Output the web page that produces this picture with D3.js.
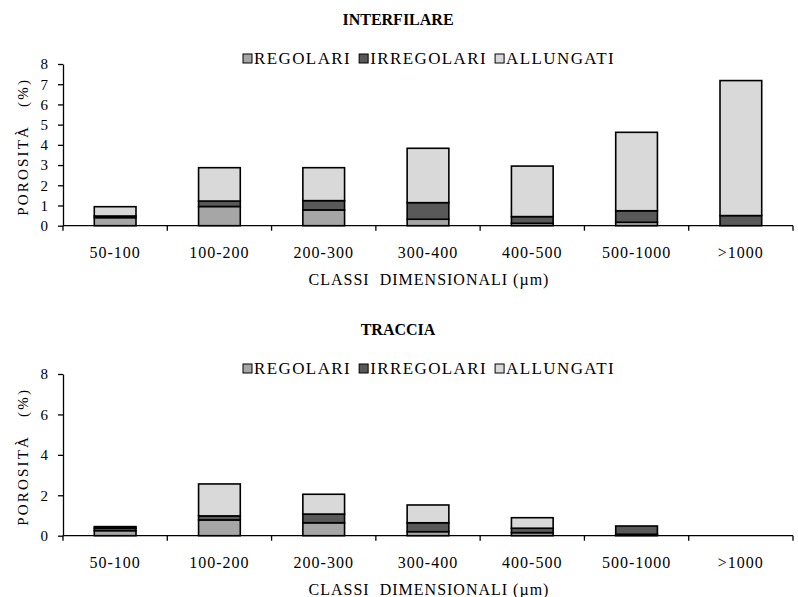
<!DOCTYPE html>
<html>
<head>
<meta charset="utf-8">
<script src="https://cdn.jsdelivr.net/npm/d3@7"></script>
<style>
  html, body { margin: 0; padding: 0; background: #fff; }
  svg text { font-family: "Liberation Serif", "Times New Roman", serif; fill: #000; }
</style>
</head>
<body>
<svg id="chart" width="798" height="597"></svg>
<script>
// Size classes (µm)
const categories = ["50-100", "100-200", "200-300", "300-400", "400-500", "500-1000", ">1000"];
const seriesNames = ["REGOLARI", "IRREGOLARI", "ALLUNGATI"];

// Porosity (%) per class – interfilare
const interfilareRegolari   = [0.40, 0.95, 0.78, 0.32, 0.12, 0.17, 0.00];
const interfilareIrregolari = [0.08, 0.27, 0.46, 0.82, 0.33, 0.57, 0.50];
const interfilareAllungati  = [0.46, 1.65, 1.63, 2.69, 2.50, 3.88, 6.68];

// Porosity (%) per class – traccia
const tracciaRegolari   = [0.25, 0.78, 0.64, 0.20, 0.15, 0.07, 0.00];
const tracciaIrregolari = [0.12, 0.20, 0.43, 0.44, 0.22, 0.41, 0.00];
const tracciaAllungati  = [0.08, 1.58, 0.98, 0.88, 0.52, 0.00, 0.00];

const interfilareTicks = [0, 1, 2, 3, 4, 5, 6, 7, 8];
const tracciaTicks = [0, 2, 4, 6, 8];

const colors = ["#a6a6a6", "#595959", "#d9d9d9"];

const svg = d3.select("#chart");

function panel(opts) {
  const { title, reg, irr, all, ticks, top } = opts;
  const left = 63, right = 793;
  const plotTop = top + 44, plotBottom = top + 205.7;

  const rows = categories.map((c, i) => ({
    cat: c, REGOLARI: reg[i], IRREGOLARI: irr[i], ALLUNGATI: all[i]
  }));
  const stacked = d3.stack().keys(seriesNames)(rows);

  const x = d3.scaleBand().domain(categories).range([left, right]).padding(0);
  const y = d3.scaleLinear().domain([0, 8]).range([plotBottom, plotTop]);

  const g = svg.append("g");

  // title
  g.append("text")
    .attr("x", 398).attr("y", top + 5)
    .attr("text-anchor", "middle")
    .style("font-weight", "bold").style("font-size", "16px")
    .text(title);

  // legend
  const legend = g.append("g");
  let lx = 0;
  seriesNames.forEach((name, i) => {
    legend.append("rect")
      .attr("x", lx).attr("y", -10).attr("width", 9).attr("height", 9)
      .attr("fill", colors[i]).attr("stroke", "#000").attr("stroke-width", 1);
    const t = legend.append("text")
      .attr("x", lx + 11).attr("y", 0)
      .style("font-size", "17px").style("letter-spacing", "1.4px")
      .text(name);
    lx += 11 + t.node().getComputedTextLength() + 8;
  });
  const legendWidth = lx - 8;
  legend.attr("transform", `translate(${429 - legendWidth / 2}, ${plotTop})`);

  // bars
  const barW = x.bandwidth() * 0.4;
  stacked.forEach((layer, si) => {
    g.append("g").selectAll("rect")
      .data(layer.filter(d => d[1] - d[0] > 0))
      .join("rect")
      .attr("x", d => x(d.data.cat) + (x.bandwidth() - barW) / 2)
      .attr("y", d => y(d[1]))
      .attr("width", barW)
      .attr("height", d => y(d[0]) - y(d[1]))
      .attr("fill", colors[si])
      .attr("stroke", "#000")
      .attr("stroke-width", 1.6);
  });

  // y axis
  const yAxis = d3.axisLeft(y).tickValues(ticks).tickSize(5).tickSizeOuter(0).tickPadding(10)
    .tickFormat(d3.format("d"));
  const ya = g.append("g").attr("transform", `translate(${left},0)`).call(yAxis);
  ya.select(".domain").attr("stroke-width", 1.3);
  ya.selectAll(".tick line").attr("stroke-width", 1.3);
  ya.selectAll(".tick text").style("font-size", "15px").style("font-family", "Liberation Serif");

  // x axis: line with ticks at class boundaries
  const xa = g.append("g").attr("transform", `translate(0,${plotBottom})`);
  xa.append("line").attr("x1", left).attr("x2", right).attr("stroke", "#000").attr("stroke-width", 1.3);
  const bounds = categories.map(c => x(c)).concat([right]);
  xa.selectAll("line.tk").data(bounds).join("line")
    .attr("class", "tk")
    .attr("x1", d => d).attr("x2", d => d).attr("y1", 0).attr("y2", 5)
    .attr("stroke", "#000").attr("stroke-width", 1.3);
  xa.selectAll("text").data(categories).join("text")
    .attr("x", d => x(d) + x.bandwidth() / 2)
    .attr("y", 32)
    .attr("text-anchor", "middle")
    .style("font-size", "16px").style("letter-spacing", "1px")
    .text(d => d);

  // axis titles
  g.append("text")
    .attr("x", 429).attr("y", plotBottom + 59)
    .attr("text-anchor", "middle")
    .style("font-size", "16px").style("letter-spacing", "1px")
    .attr("xml:space", "preserve")
    .text("CLASSI  DIMENSIONALI (\u00b5m)");

  g.append("text")
    .attr("transform", `translate(28, ${(plotTop + plotBottom) / 2 + 2}) rotate(-90)`)
    .attr("text-anchor", "middle")
    .style("font-size", "15px").style("letter-spacing", "2.2px")
    .attr("xml:space", "preserve")
    .text("POROSIT\u00c0   (%)");
}

panel({ title: "INTERFILARE", reg: interfilareRegolari, irr: interfilareIrregolari,
        all: interfilareAllungati, ticks: interfilareTicks, top: 20 });
panel({ title: "TRACCIA", reg: tracciaRegolari, irr: tracciaIrregolari,
        all: tracciaAllungati, ticks: tracciaTicks, top: 330 });
</script>
</body>
</html>
